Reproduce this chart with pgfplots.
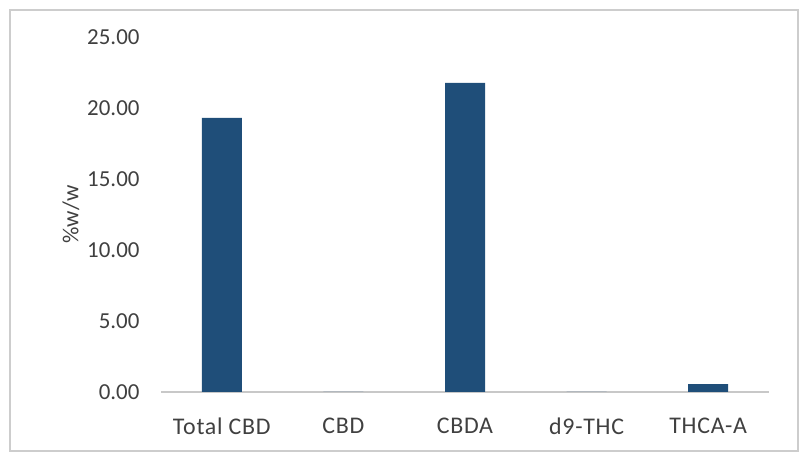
\documentclass[border=0pt]{standalone}
\usepackage{pgfplots}
\pgfplotsset{compat=1.18}
\usepackage{fontspec}
\setmainfont{Carlito}
\definecolor{barblue}{RGB}{31,78,121}
\definecolor{txt}{RGB}{64,64,64}
\begin{document}
\begin{tikzpicture}[x=1bp,y=1bp]
\path[use as bounding box] (0,0) rectangle (804,455);
\draw[draw={rgb,255:red,205;green,205;blue,205}, line width=1.5bp] (10,4) rectangle (798,445);
\begin{axis}[
  at={(161bp,63bp)}, anchor=south west,
  scale only axis, width=608bp, height=355bp,
  xmin=-0.5, xmax=4.5, ymin=0, ymax=25,
  axis line style={draw=none},
  ytick={0,5,10,15,20,25},
  yticklabel style={/pgf/number format/fixed, /pgf/number format/fixed zerofill, /pgf/number format/precision=2, xshift=-18bp},
  /pgf/number format/assume math mode=true,
  xtick={0,1,2,3,4},
  xticklabels={Total CBD, CBD, CBDA, d9-THC, THCA-A},
  tick style={draw=none},
  ticklabel style={font=\fontsize{23}{26}\selectfont, text=txt},
  xticklabel style={yshift=-22bp, font=\fontsize{24}{26}\selectfont\addfontfeatures{LetterSpace=3}},
  ylabel={\%w/w},
  ylabel style={font=\fontsize{23}{26}\selectfont, text=txt, yshift=1bp},
  clip=false,
]
\draw[draw={rgb,255:red,200;green,200;blue,200}, line width=1.2bp] (axis cs:-0.5,0) -- (axis cs:4.5,0);
\addplot[ybar, bar width=40bp, fill=barblue, draw=none] coordinates {(0,19.3) (1,0) (2,21.76) (3,0) (4,0.55)};
\end{axis}
\end{tikzpicture}
\end{document}
